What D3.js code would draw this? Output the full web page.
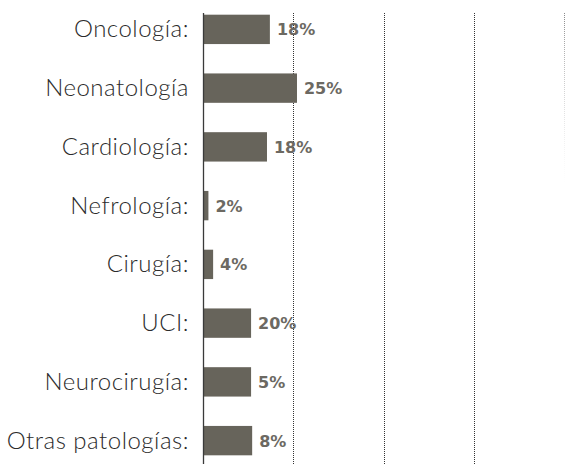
<!DOCTYPE html>
<html>
<head>
<meta charset="utf-8">
<script src="https://cdn.jsdelivr.net/npm/d3@7"></script>
<style>
  body { margin: 0; background: #fff; }
  svg { display: block; }
</style>
</head>
<body>
<svg id="chart" width="565" height="464"></svg>
<script>
// categories and values
var categories = ['Oncología:', 'Neonatología', 'Cardiología:', 'Nefrología:', 'Cirugía:', 'UCI:', 'Neurocirugía:', 'Otras patologías:'];
// bar lengths as drawn (percent of axis)
var barValues = [18.5, 26, 17.7, 1.5, 2.8, 13.3, 13.3, 13.6];
// printed value labels
var valueLabels = ['18%', '25%', '18%', '2%', '4%', '20%', '5%', '8%'];
var gridTicks = [25, 50, 75, 100];

var svg = d3.select('#chart');

var x = d3.scaleLinear().domain([0, 100]).range([203, 564.5]);
var y = d3.scaleBand()
    .domain(categories)
    .range([0, 470])
    .paddingInner(0.5)
    .paddingOuter(0.25);

// fading gradient for the last grid line at the edge
var defs = svg.append('defs');
var grad = defs.append('linearGradient')
    .attr('id', 'fade')
    .attr('gradientUnits', 'userSpaceOnUse')
    .attr('x1', 0).attr('y1', 13).attr('x2', 0).attr('y2', 185);
grad.append('stop').attr('offset', 0).attr('stop-color', '#888').attr('stop-opacity', 1);
grad.append('stop').attr('offset', 1).attr('stop-color', '#ddd').attr('stop-opacity', 0);

// dotted grid lines
svg.selectAll('line.grid')
    .data(gridTicks)
    .enter()
    .append('line')
    .attr('class', 'grid')
    .attr('x1', d => Math.min(Math.round(x(d)) + 0.5, 564.5))
    .attr('x2', d => Math.min(Math.round(x(d)) + 0.5, 564.5))
    .attr('y1', 13)
    .attr('y2', d => d === 100 ? 185 : 464)
    .attr('stroke', d => d === 100 ? 'url(#fade)' : '#333')
    .attr('stroke-width', 1)
    .attr('stroke-dasharray', '1,1');

// bars
svg.selectAll('rect.bar')
    .data(barValues)
    .enter()
    .append('rect')
    .attr('class', 'bar')
    .attr('x', x(0))
    .attr('y', (d, i) => y(categories[i]))
    .attr('width', d => x(d) - x(0))
    .attr('height', y.bandwidth())
    .attr('fill', '#67645b');

// axis line
svg.append('line')
    .attr('x1', x(0) + 0.5)
    .attr('x2', x(0) + 0.5)
    .attr('y1', 13)
    .attr('y2', 464)
    .attr('stroke', '#3a3a3a')
    .attr('stroke-width', 1.3);

// category labels
svg.selectAll('text.cat')
    .data(categories)
    .enter()
    .append('text')
    .attr('class', 'cat')
    .attr('x', 189)
    .attr('y', d => y(d) + y.bandwidth() / 2)
    .attr('dy', '0.33em')
    .attr('text-anchor', 'end')
    .attr('font-family', 'Lato, sans-serif')
    .attr('font-weight', 300)
    .attr('font-size', 24)
    .attr('letter-spacing', 0.5)
    .attr('fill', '#2b2b2b')
    .text(d => d);

// value labels
svg.selectAll('text.val')
    .data(valueLabels)
    .enter()
    .append('text')
    .attr('class', 'val')
    .attr('x', (d, i) => x(barValues[i]) + 7)
    .attr('y', (d, i) => y(categories[i]) + y.bandwidth() / 2)
    .attr('dy', '0.37em')
    .attr('font-family', '"DejaVu Sans", sans-serif')
    .attr('font-weight', 'bold')
    .attr('font-size', 16)
    .attr('fill', '#6c6962')
    .text(d => d);
</script>
</body>
</html>
